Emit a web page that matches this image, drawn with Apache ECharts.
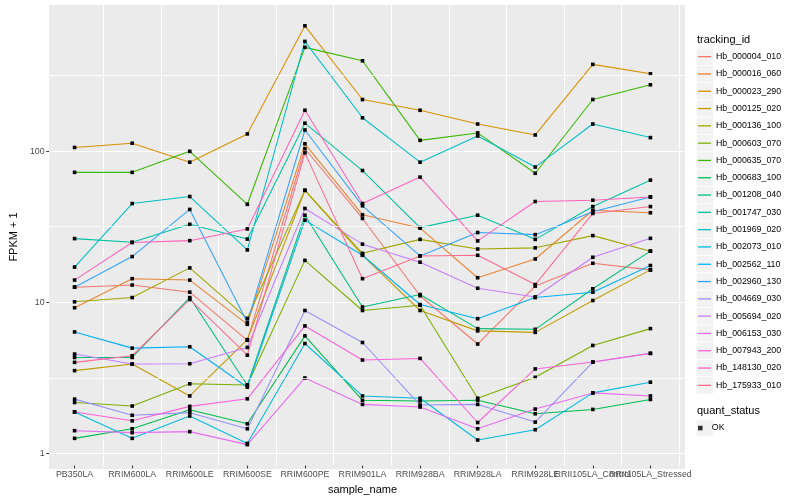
<!DOCTYPE html>
<html>
<head>
<meta charset="utf-8">
<script src="https://cdn.jsdelivr.net/npm/echarts@6/dist/echarts.min.js"></script>
<style>html,body{margin:0;padding:0;background:#fff}#c{width:800px;height:500px}</style>
</head>
<body>
<div id="c"></div>
<script>
// ---- data ----
const sampleNames = ['PB350LA','RRIM600LA','RRIM600LE','RRIM600SE','RRIM600PE','RRIM901LA','RRIM928BA','RRIM928LA','RRIM928LE','RRII105LA_Control','RRII105LA_Stressed'];
const yTicks = [1, 10, 100];
const yMinorTicks = [3.1623, 31.623, 316.23];
const trackingIds = ['Hb_000004_010','Hb_000016_060','Hb_000023_290','Hb_000125_020','Hb_000136_100','Hb_000603_070','Hb_000635_070','Hb_000683_100','Hb_001208_040','Hb_001747_030','Hb_001969_020','Hb_002073_010','Hb_002562_110','Hb_002960_130','Hb_004669_030','Hb_005694_020','Hb_006153_030','Hb_007943_200','Hb_148130_020','Hb_175933_010'];
const quantStatus = ['OK'];

const v000004_010 = [12.2, 12.6, 11.3, 5.4, 102, 35, 10.7, 5.1, 12.4, 17.6, 15.9];
const v000016_060 = [8.9, 13.9, 13.6, 6.9, 110, 37, 30.2, 14.1, 18.8, 39.7, 38.2];
const v000023_290 = [104, 111, 83, 128, 672, 217, 184, 149, 126, 372, 322];
const v000125_020 = [3.39, 3.75, 2.3, 5.46, 53.9, 19.9, 8.53, 6.24, 6.1, 9.94, 15.9];
const v000136_100 = [9.75, 10.4, 16.4, 7.55, 53.9, 20.5, 25.4, 21.9, 22.3, 26.9, 21.2];
const v000603_070 = [2.08, 1.97, 2.77, 2.72, 18.4, 8.53, 9.24, 2.22, 3.06, 4.99, 6.46];
const v000635_070 = [71, 71, 98, 43.5, 483, 393, 116, 130, 70, 217, 272];
const v000683_100 = [1.2, 1.39, 1.86, 1.5, 5.78, 2.15, 2.13, 2.15, 1.75, 1.87, 2.18];
const v001208_040 = [4.15, 4.15, 10.4, 2.71, 36.8, 9.0, 10.9, 6.46, 6.39, 11.9, 21.2];
const v001747_030 = [25.7, 24.3, 32, 25.5, 151, 73, 30.4, 36.8, 25.4, 42, 63];
const v001969_020 = [16.6, 44, 49, 21.6, 529, 164, 83, 124, 77, 149, 121];
const v002073_010 = [1.8, 1.2, 1.69, 1.11, 5.14, 2.3, 2.22, 1.17, 1.37, 2.41, 2.84];
const v002562_110 = [6.14, 4.79, 4.89, 2.63, 34.1, 19.9, 9.35, 7.52, 10.4, 11.3, 17];
const v002960_130 = [12.2, 19.5, 40.2, 7.1, 136, 42.5, 19.7, 28.2, 27.3, 38.8, 48.7];
const v004669_030 = [2.19, 1.71, 1.78, 1.39, 8.53, 5.22, 2.0, 2.02, 1.54, 3.87, 4.42];
const v005694_020 = [4.37, 3.75, 3.77, 4.84, 40.8, 23.6, 17.9, 12, 10.5, 19.3, 25.8];
const v006153_030 = [1.35, 1.31, 1.33, 1.09, 3.03, 2.02, 1.94, 1.39, 1.88, 2.41, 2.3];
const v007943_200 = [1.8, 1.57, 1.96, 2.2, 6.73, 3.99, 4.09, 1.53, 3.48, 3.87, 4.42];
const v148130_020 = [13.6, 24.2, 24.9, 29.8, 184, 44, 66, 24.8, 45.4, 46.3, 48.7];
const v175933_010 = [3.85, 4.26, 10.1, 4.3, 95.7, 13.9, 19.7, 19.9, 12.7, 37.8, 42];

const seriesValues = [v000004_010, v000016_060, v000023_290, v000125_020, v000136_100, v000603_070, v000635_070, v000683_100, v001208_040, v001747_030, v001969_020, v002073_010, v002562_110, v002960_130, v004669_030, v005694_020, v006153_030, v007943_200, v148130_020, v175933_010];

// ---- style ----
const palette = ['#F8766D','#EA8331','#D89000','#C09B00','#A3A500','#7CAE00','#39B600','#00BB4E','#00BF7D','#00C1A3','#00BFC4','#00BAE0','#00B0F6','#35A2FF','#9590FF','#C77CFF','#E76BF3','#FA62DB','#FF62BC','#FF6C91'];
const FONT = "'Liberation Sans', Arial, Helvetica, sans-serif";
const yMin = 0.79, yMax = 925;

const chart = echarts.init(document.getElementById('c'), null, {renderer: 'canvas'});

const series = trackingIds.map((id, i) => ({
  name: id,
  type: 'line',
  xAxisIndex: 1,
  yAxisIndex: 1,
  data: seriesValues[i],
  symbol: 'rect',
  symbolSize: 3.6,
  itemStyle: {color: '#000', borderWidth: 0},
  lineStyle: {color: palette[i], width: 1.07},
  emphasis: {disabled: true},
  z: 3
}));
series.push({
  name: quantStatus[0], type: 'scatter', xAxisIndex: 1, yAxisIndex: 1, data: [],
  symbol: 'rect', itemStyle: {color: '#000'}
});
// minor grid lines (ggplot minor breaks at half-decades in log space), spanning the whole panel
series.push({
  type: 'line', xAxisIndex: 0, yAxisIndex: 0, data: [[0.5, 1]], z: 1, silent: true,
  showSymbol: false, symbol: 'none', lineStyle: {width: 0, opacity: 0},
  markLine: {
    silent: true, symbol: ['none','none'], label: {show: false}, animation: false,
    lineStyle: {color: '#ffffff', width: 0.8, type: 'solid', opacity: 1},
    emphasis: {disabled: true},
    data: yMinorTicks.map(t => ({yAxis: t}))
  }
});

const graphics = [];
graphics.push({type: 'text', left: 697, top: 34, z: 5, style: {text: 'tracking_id', font: '11px ' + FONT, fill: '#000'}});
graphics.push({type: 'text', left: 697, top: 405, z: 5, style: {text: 'quant_status', font: '11px ' + FONT, fill: '#000'}});
trackingIds.forEach((id, i) => {
  graphics.push({type: 'rect', shape: {x: 696.6, y: 48.4 + 17.3 * i, width: 16.5, height: 16.5}, style: {fill: '#F2F2F2'}, z: 1});
});
graphics.push({type: 'rect', shape: {x: 696.6, y: 419.7, width: 16.5, height: 16.5}, style: {fill: '#F2F2F2'}, z: 1});

chart.setOption({
  animation: false,
  backgroundColor: '#ffffff',
  textStyle: {fontFamily: FONT},
  grid: [
    {left: 40, right: 115, top: 5, bottom: 31, show: true, backgroundColor: '#EBEBEB', borderWidth: 0},
    {left: 45.8, right: 120.8, top: 5, bottom: 31}
  ],
  xAxis: [
    {gridIndex: 0, type: 'value', min: 0, max: 1, show: false},
    {
      gridIndex: 1, type: 'category', data: sampleNames, boundaryGap: true,
      axisLine: {show: false},
      axisTick: {show: true, alignWithLabel: true, length: 2.75, lineStyle: {color: '#333333', width: 1.07}},
      axisLabel: {interval: 0, hideOverlap: false, margin: 4.5, fontSize: 8.8, color: '#4D4D4D', fontFamily: FONT},
      splitLine: {show: true, interval: 0, lineStyle: {color: '#ffffff', width: 1.07}},
      name: 'sample_name', nameLocation: 'middle', nameGap: 16,
      nameTextStyle: {fontSize: 11, color: '#000', fontFamily: FONT}
    }
  ],
  yAxis: [
    {
      gridIndex: 0, type: 'log', logBase: 10, min: yMin, max: yMax,
      axisLine: {show: false},
      axisTick: {show: true, length: 2.75, customValues: yTicks, lineStyle: {color: '#333333', width: 1.07}},
      axisLabel: {customValues: yTicks, margin: 4.5, fontSize: 8.8, color: '#4D4D4D', fontFamily: FONT, formatter: v => String(v)},
      splitLine: {show: true, lineStyle: {color: '#ffffff', width: 1.07}},
      minorSplitLine: {show: false},
      name: 'FPKM + 1', nameLocation: 'middle', nameGap: 21.5, nameRotate: 90,
      nameTextStyle: {fontSize: 11, color: '#000', fontFamily: FONT}
    },
    {gridIndex: 1, type: 'log', logBase: 10, min: yMin, max: yMax, show: false, splitLine: {show: false}}
  ],
  legend: [
    {
      orient: 'vertical', left: 698, top: 48, itemGap: 0, itemWidth: 13, itemHeight: 1.3,
      selectedMode: false, icon: 'rect', padding: 0,
      textStyle: {fontSize: 8.8, color: '#000', fontFamily: FONT, lineHeight: 17.3, height: 17.3},
      data: trackingIds.map((id, i) => ({name: id, icon: 'rect', itemStyle: {color: palette[i], borderWidth: 0}}))
    },
    {
      orient: 'vertical', left: 698, top: 419.4, itemGap: 0, itemWidth: 13, itemHeight: 4.6,
      selectedMode: false, padding: 0, symbolKeepAspect: true,
      textStyle: {fontSize: 8.8, color: '#000', fontFamily: FONT, lineHeight: 17.3, height: 17.3},
      data: [{name: quantStatus[0], icon: 'path://M0,0h1v1h-1z', itemStyle: {color: '#000'}}]
    }
  ],
  graphic: graphics,
  series: series
});
</script>
</body>
</html>
